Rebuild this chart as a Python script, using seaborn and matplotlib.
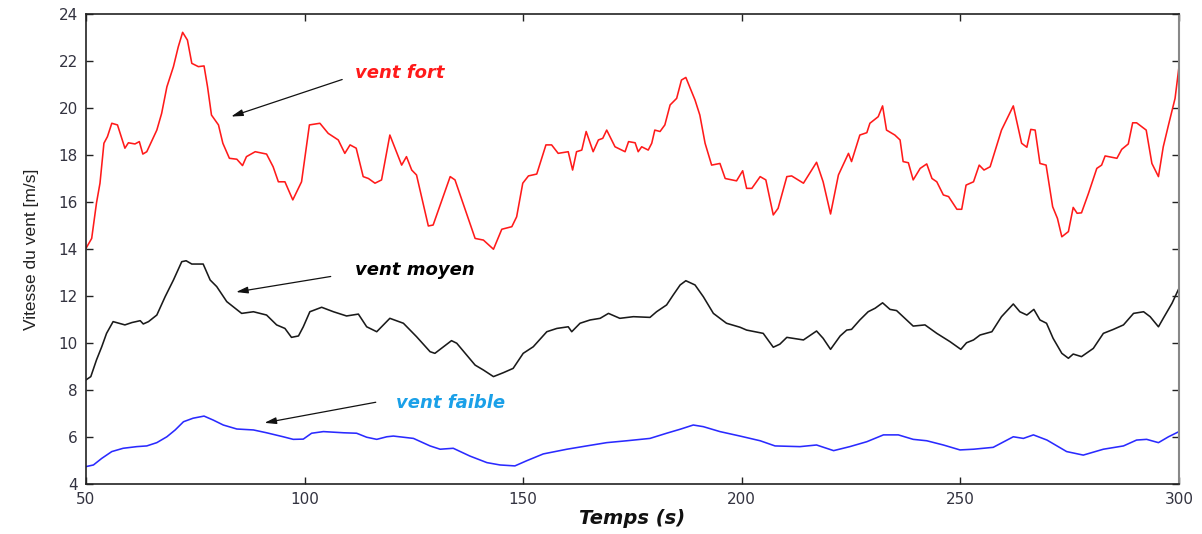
import matplotlib
matplotlib.use("Agg")
import matplotlib.pyplot as plt
from matplotlib import font_manager
import seaborn as sns
import pandas as pd

# ---- data ----
t_fort = [50, 51.3, 52.4, 53.2, 54.1, 54.9, 55.9, 57.2, 58.9, 59.7,
          61.2, 62.2, 63, 63.9, 66.2, 67.3, 68.5, 70, 71.1, 72.1,
          73.2, 74.2, 75.7, 77, 77.8, 78.7, 80.3, 81.3, 82.8, 84.5,
          85.8, 86.7, 88.7, 91.3, 92.8, 94, 95.5, 97.3, 99.3, 101.1,
          103.5, 105.4, 107.7, 109.2, 110.4, 111.8, 113.4, 114.6, 116.1, 117.6,
          119.5, 122.2, 123.3, 124.5, 125.6, 128.3, 129.4, 133.3, 134.4, 139,
          140.9, 143.2, 145.1, 147.4, 148.5, 149.9, 151.2, 153.1, 155.2, 156.5,
          158, 160.3, 161.3, 162.2, 163.4, 164.4, 166, 167.2, 168.2, 169.1,
          171, 173.3, 174.1, 175.6, 176.3, 177.1, 178.6, 179.4, 180.1, 181.3,
          182.4, 183.6, 185.1, 186.2, 187.2, 189.3, 190.4, 191.6, 193.1, 195,
          196.2, 198.8, 200.2, 201.1, 202.3, 204.2, 205.5, 207.2, 208.3, 210.3,
          211.4, 214.1, 217.1, 218.6, 220.3, 222.1, 224.4, 225.1, 227, 228.6,
          229.3, 231.2, 232.2, 233.1, 235, 236.2, 236.9, 238.1, 239.2, 240.8,
          242.3, 243.5, 244.6, 246.1, 247.3, 249.2, 250.3, 251.3, 253, 254.3,
          255.4, 256.8, 259.4, 262.1, 264, 265.2, 266.1, 267.1, 268.2, 269.6,
          271.1, 272.2, 273.2, 274.7, 275.8, 276.7, 277.7, 279.3, 281.2, 282.3,
          283.1, 285.8, 286.9, 288.4, 289.4, 290.3, 292.5, 293.8, 295.3, 296.4,
          297.6, 299.1, 300]
v_fort = [14.03, 14.45, 15.96, 16.8, 18.5, 18.78, 19.35, 19.28, 18.29, 18.52,
          18.47, 18.57, 18.04, 18.14, 19.06, 19.77, 20.9, 21.76, 22.6, 23.22,
          22.89, 21.9, 21.76, 21.79, 20.9, 19.7, 19.28, 18.5, 17.86, 17.82,
          17.55, 17.93, 18.14, 18.04, 17.5, 16.86, 16.86, 16.09, 16.86, 19.28,
          19.35, 18.92, 18.64, 18.07, 18.43, 18.29, 17.08, 17.0, 16.8, 16.94,
          18.85, 17.57, 17.93, 17.36, 17.15, 14.98, 15.02, 17.08, 16.94, 14.45,
          14.38, 13.99, 14.84, 14.95, 15.37, 16.8, 17.11, 17.19, 18.43, 18.43,
          18.07, 18.14, 17.36, 18.14, 18.21, 19.0, 18.14, 18.64, 18.71, 19.06,
          18.35, 18.14, 18.57, 18.52, 18.14, 18.35, 18.21, 18.5, 19.06, 19.0,
          19.28, 20.13, 20.41, 21.19, 21.3, 20.34, 19.7, 18.5, 17.57, 17.64,
          17.0, 16.9, 17.33, 16.58, 16.58, 17.08, 16.94, 15.45, 15.73, 17.08,
          17.11, 16.8, 17.69, 16.86, 15.49, 17.15, 18.07, 17.72, 18.85, 18.95,
          19.35, 19.63, 20.09, 19.06, 18.85, 18.64, 17.72, 17.67, 16.94, 17.43,
          17.62, 17.0, 16.86, 16.3, 16.23, 15.69, 15.69, 16.72, 16.86, 17.57,
          17.36, 17.5, 19.06, 20.09, 18.5, 18.33, 19.09, 19.06, 17.64, 17.57,
          15.8, 15.3, 14.52, 14.74, 15.77, 15.52, 15.54, 16.37, 17.43, 17.57,
          17.96, 17.86, 18.24, 18.47, 19.37, 19.37, 19.06, 17.64, 17.08, 18.35,
          19.28, 20.41, 21.76]

t_moyen = [50, 51.1, 52.4, 53.6, 54.7, 56.2, 58.9, 60.5, 62.4, 63.1,
           64.3, 66.2, 68.1, 70, 71.9, 72.9, 74.2, 76.8, 78.4, 79.9,
           82.2, 84.1, 85.6, 88.3, 91.3, 93.6, 95.5, 97, 98.6, 99.7,
           101.2, 103.9, 106.6, 109.6, 112.3, 114.2, 116.5, 119.5, 122.6, 125.6,
           128.7, 129.8, 133.6, 134.8, 139, 140.9, 143.2, 145.5, 147.7, 150,
           152.3, 155.4, 157.7, 160.3, 161.1, 163, 165.3, 167.6, 169.5, 172.1,
           175.2, 179, 180.5, 182.8, 184.3, 185.9, 187.2, 189.3, 191.2, 193.5,
           196.5, 199.6, 201.1, 204.9, 207.2, 208.7, 210.3, 214.1, 217.1, 218.6,
           220.3, 222.5, 224, 225.1, 227, 228.9, 230.5, 232.2, 233.9, 235.4,
           237.3, 239.2, 241.9, 244.6, 247.6, 250.1, 251.4, 253, 254.5, 257.2,
           259.4, 262.1, 263.6, 265.2, 266.8, 268.2, 269.7, 271.2, 273.2, 274.7,
           275.8, 277.7, 280.4, 282.7, 285, 287.3, 289.6, 291.9, 293.4, 295.3,
           296.4, 298.4, 300]
v_moyen = [8.43, 8.57, 9.28, 9.84, 10.41, 10.91, 10.77, 10.87, 10.95, 10.81,
           10.91, 11.19, 11.97, 12.68, 13.46, 13.5, 13.36, 13.36, 12.68, 12.4,
           11.76, 11.48, 11.26, 11.33, 11.19, 10.77, 10.62, 10.24, 10.3, 10.69,
           11.33, 11.52, 11.33, 11.15, 11.23, 10.69, 10.48, 11.05, 10.84, 10.27,
           9.63, 9.56, 10.1, 9.99, 9.06, 8.85, 8.57, 8.74, 8.92, 9.56,
           9.84, 10.48, 10.62, 10.69, 10.48, 10.84, 10.98, 11.05, 11.26, 11.05,
           11.12, 11.09, 11.33, 11.62, 12.04, 12.47, 12.65, 12.47, 11.97, 11.26,
           10.84, 10.67, 10.55, 10.41, 9.82, 9.95, 10.24, 10.13, 10.51, 10.2,
           9.73, 10.3, 10.55, 10.58, 10.98, 11.33, 11.48, 11.71, 11.43, 11.38,
           11.05, 10.72, 10.77, 10.41, 10.06, 9.73, 10.01, 10.13, 10.34, 10.48,
           11.12, 11.66, 11.33, 11.19, 11.43, 10.98, 10.84, 10.2, 9.56, 9.35,
           9.53, 9.42, 9.77, 10.41, 10.58, 10.77, 11.26, 11.33, 11.12, 10.69,
           11.05, 11.69, 12.33]

t_faible = [50, 51.7, 53.6, 55.9, 58.5, 61.6, 63.9, 66.2, 68.5, 70.4,
            72.3, 74.5, 77, 79.1, 81.4, 84.5, 88.3, 91.3, 95.1, 97.4,
            99.7, 101.6, 104.3, 108.9, 111.9, 114.2, 116.5, 118.8, 120.3, 124.9,
            128.7, 131, 134, 137.8, 141.7, 144.7, 148.1, 150.8, 154.6, 160,
            164.5, 169.1, 173.7, 179, 182.8, 185.9, 188.9, 191.2, 195, 199.6,
            204.2, 207.6, 213.3, 217.1, 221, 224.7, 228.6, 232.4, 235.8, 239.2,
            242.3, 246.1, 249.9, 253, 257.5, 262.1, 264.4, 266.7, 269.8, 274.3,
            278.1, 282.7, 287.3, 290.3, 292.6, 295.3, 297.6, 300]
v_faible = [4.74, 4.81, 5.09, 5.38, 5.52, 5.59, 5.62, 5.76, 6.01, 6.3,
            6.65, 6.8, 6.89, 6.72, 6.51, 6.34, 6.3, 6.18, 6.01, 5.9,
            5.91, 6.16, 6.23, 6.18, 6.16, 5.99, 5.9, 6.01, 6.04, 5.94,
            5.62, 5.48, 5.52, 5.19, 4.91, 4.81, 4.77, 4.99, 5.28, 5.48,
            5.62, 5.76, 5.84, 5.94, 6.16, 6.33, 6.51, 6.44, 6.23, 6.04,
            5.84, 5.62, 5.59, 5.66, 5.42, 5.59, 5.8, 6.09, 6.09, 5.9,
            5.84, 5.66, 5.45, 5.48, 5.56, 6.01, 5.94, 6.09, 5.87, 5.38,
            5.23, 5.48, 5.62, 5.87, 5.9, 5.76, 6.01, 6.23]

labels = ["vent fort", "vent moyen", "vent faible"]
colors = ["#ff1a1a", "#1a1a1a", "#2a2aff"]
label_colors = ["#ff1a1a", "#000000", "#1aa0e8"]
x_ticks = [50, 100, 150, 200, 250, 300]
y_ticks = [4, 6, 8, 10, 12, 14, 16, 18, 20, 22, 24]

df = pd.concat([
    pd.DataFrame({"t": t_fort, "v": v_fort, "serie": labels[0]}),
    pd.DataFrame({"t": t_moyen, "v": v_moyen, "serie": labels[1]}),
    pd.DataFrame({"t": t_faible, "v": v_faible, "serie": labels[2]}),
], ignore_index=True)

sns.set_style("ticks")
plt.rcParams["font.family"] = ["DejaVu Sans"]

installed = {f.name for f in font_manager.fontManager.ttflist}
narrow = "Liberation Sans Narrow" if "Liberation Sans Narrow" in installed else "Liberation Sans"

fig = plt.figure(figsize=(12.02, 5.34), dpi=100)
ax = fig.add_axes([86 / 1202, 1 - 484 / 534, (1179 - 86) / 1202, (484 - 14) / 534])

sns.lineplot(data=df, x="t", y="v", hue="serie", palette=dict(zip(labels, colors)),
             hue_order=labels, estimator=None, sort=False, linewidth=1.15,
             legend=False, ax=ax)

ax.set_xlim(50, 300)
ax.set_ylim(4, 24)
ax.set_xticks(x_ticks)
ax.set_yticks(y_ticks)
ax.tick_params(direction="in", length=5, width=1, top=True, right=True,
               labelsize=11, labelcolor="#333340", color="#222222", pad=6)
for s in ["left", "bottom", "top"]:
    ax.spines[s].set_color("#222222")
    ax.spines[s].set_linewidth(1.2)
ax.spines["right"].set_color("#888888")
ax.spines["right"].set_linewidth(1.5)

ax.set_xlabel("Temps (s)", fontsize=14, fontweight="bold", fontstyle="italic",
              color="#111111", labelpad=1)
ax.set_ylabel("Vitesse du vent [m/s]", fontsize=12.5, color="#222222",
              family=[narrow, "DejaVu Sans"], labelpad=14)

# annotations: text position, arrow tail, arrow head (data coords)
ann_text = [(111.5, 21.5), (111.5, 13.1), (121.0, 7.45)]
ann_tail = [(109.2, 21.25), (106.6, 12.85), (116.9, 7.5)]
ann_head = [(82.6, 19.6), (83.7, 12.15), (90.2, 6.58)]
for lab, col, (tx, ty), tail, head in zip(labels, label_colors, ann_text, ann_tail, ann_head):
    ax.text(tx, ty, lab, color=col, fontsize=13, fontweight="bold",
            fontstyle="italic", va="center", ha="left")
    ax.annotate("", xy=head, xytext=tail,
                arrowprops=dict(arrowstyle="-|>,head_length=0.7,head_width=0.2",
                                color="#111111", lw=0.9))

fig.savefig("out.png", dpi=100)
